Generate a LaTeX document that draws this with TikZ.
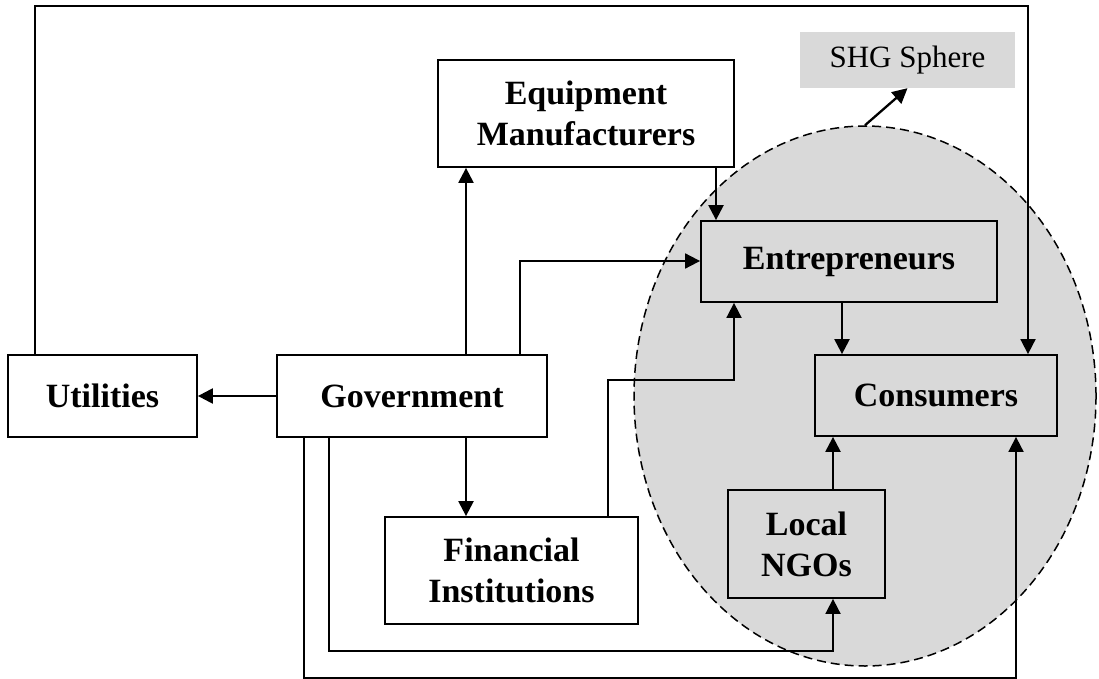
\documentclass[tikz,border=0pt]{standalone}
\usepackage{fontspec}
\setmainfont{Liberation Serif}
\usetikzlibrary{arrows.meta,shapes.geometric}
\definecolor{shade}{RGB}{217,217,217}
\tikzset{
  box/.style={draw, line width=1.8pt, align=center, font=\fontsize{34}{41}\selectfont\bfseries, inner sep=0pt},
  wbox/.style={box, fill=white},
  gbox/.style={box, fill=shade},
  conn/.style={line width=1.8pt},
  arr/.style={conn, -{Triangle[length=15pt,width=15pt]}},
  thick arr/.style={arr, line width=2.3pt},
}
\begin{document}
\begin{tikzpicture}[x=1pt,y=-1pt]
\useasboundingbox (0,0) rectangle (1099,679);
% sphere
\node[ellipse, draw, dash pattern=on 9pt off 5pt, line width=1.5pt, fill=shade, minimum width=462pt, minimum height=540pt, inner sep=0pt] (sph) at (865,396) {};
\node[fill=shade, minimum width=215pt, minimum height=56pt, inner sep=0pt, font=\fontsize{31}{36}\selectfont] (shg) at (907.5,60) {SHG Sphere};
% boxes
\node[wbox, minimum width=189pt, minimum height=82pt] (util) at (102.5,396) {Utilities};
\node[wbox, minimum width=270pt, minimum height=82pt] (gov) at (412,396) {Government};
\node[wbox, minimum width=296pt, minimum height=107pt] (equip) at (586,113.5) {Equipment\\Manufacturers};
\node[wbox, minimum width=253pt, minimum height=107pt] (fin) at (511.5,570.5) {Financial\\Institutions};
\node[gbox, minimum width=296pt, minimum height=81pt] (entr) at (849,261.5) {Entrepreneurs};
\node[gbox, minimum width=242pt, minimum height=81pt] (cons) at (936,395.5) {Consumers};
\node[gbox, minimum width=157pt, minimum height=108pt] (ngo) at (806.5,544) {Local\\NGOs};
% helper coordinates
\coordinate (xu) at (35,6);
\coordinate (xc) at (1028,6);
\coordinate (xge) at (466,0);
\coordinate (xgen) at (520,261);
\coordinate (xef) at (716,0);
\coordinate (xfi) at (608,380);
\coordinate (xfe) at (734,380);
\coordinate (xec) at (842,0);
\coordinate (xnc) at (833,0);
\coordinate (xgn) at (329,651);
\coordinate (xgc) at (304,678);
\coordinate (xcb) at (1016,678);
\coordinate (xnb) at (833,651);
% connectors
\draw[thick arr] (gov.west) -- (util.west -| util.east);
\draw[arr] (util.north -| xu) -- (xu) -- (xc) -- (cons.north -| xc);
\draw[thick arr] (gov.north -| xge) -- (equip.south -| xge);
\draw[thick arr] (gov.south -| xge) -- (fin.north -| xge);
\draw[arr] (gov.north -| xgen) -- (xgen) -- (entr.west |- xgen);
\draw[thick arr] (equip.south -| xef) -- (entr.north -| xef);
\draw[arr] (fin.north -| xfi) -- (xfi) -- (xfe) -- (entr.south -| xfe);
\draw[thick arr] (entr.south -| xec) -- (cons.north -| xec);
\draw[thick arr] (ngo.north -| xnc) -- (cons.south -| xnc);
\draw[arr] (gov.south -| xgn) -- (xgn) -- (xnb) -- (ngo.south -| xnb);
\draw[arr] (gov.south -| xgc) -- (xgc) -- (xcb) -- (cons.south -| xcb);
\draw[thick arr] (sph.north) -- (shg.south);
\end{tikzpicture}
\end{document}
